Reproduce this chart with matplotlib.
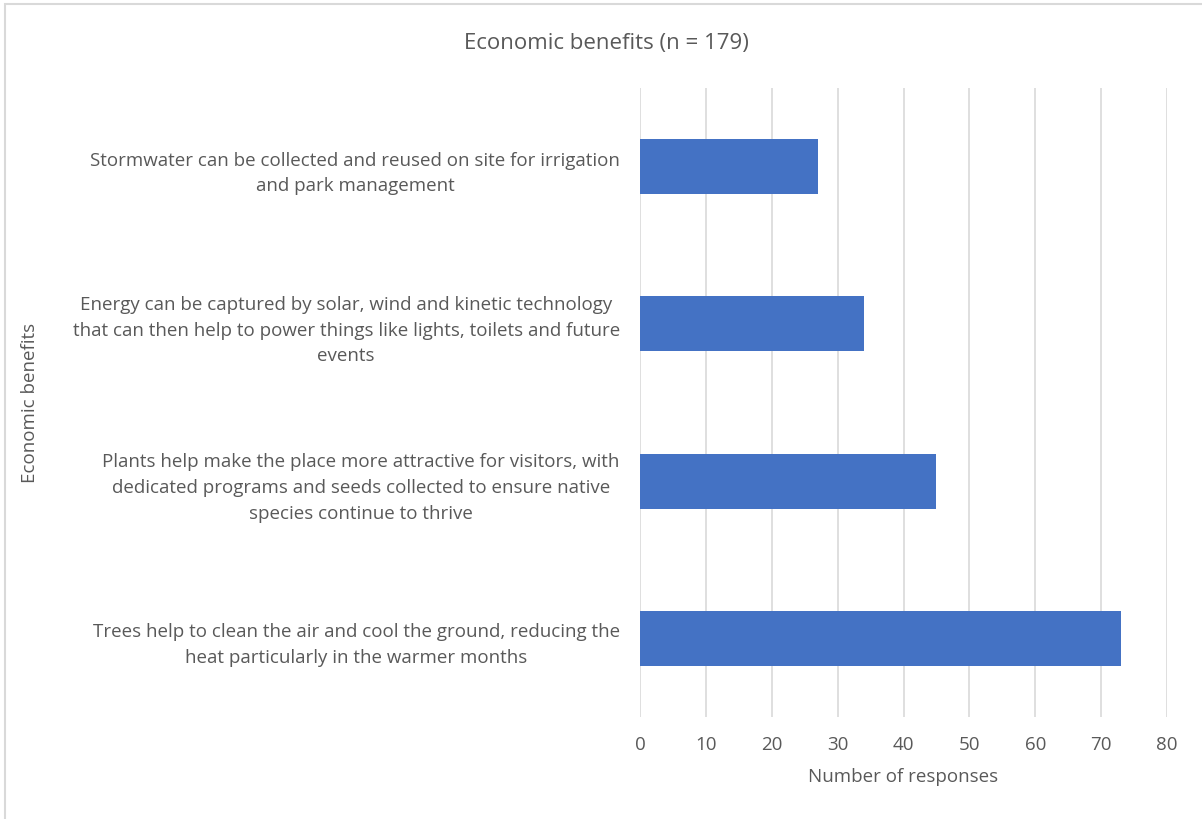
#!/usr/bin/env python3
from matplotlib import pyplot as plt
from matplotlib.patches import Rectangle

title = "Economic benefits (n = 179)"
categories = [
    "Trees help to clean the air and cool the ground, reducing the\nheat particularly in the warmer months",
    "Plants help make the place more attractive for visitors, with\ndedicated programs and seeds collected to ensure native\nspecies continue to thrive",
    "Energy can be captured by solar, wind and kinetic technology\nthat can then help to power things like lights, toilets and future\nevents",
    "Stormwater can be collected and reused on site for irrigation\nand park management",
]
responses = [73, 45, 34, 27]
x_ticks = [0, 10, 20, 30, 40, 50, 60, 70, 80]

text_grey = '#595959'
plt.rcParams['font.family'] = ['Open Sans', 'DejaVu Sans']

fig = plt.figure(figsize=(12.02, 8.2), dpi=100)
ax = fig.add_axes([640 / 1202, 1 - 718 / 820, 527 / 1202, 629 / 820])

# chart border (only top and left edges visible)
fig.patches.append(Rectangle((5 / 1202, -0.1), 1.2, 1 - 5 / 820 + 0.1,
                             transform=fig.transFigure, fill=False,
                             edgecolor='#d9d9d9', linewidth=1.5))

ypos = list(range(len(categories)))
ax.barh(ypos, responses, height=0.35, color='#4472C4', zorder=3)

ax.set_xlim(0, 80)
ax.set_ylim(-0.5, len(categories) - 0.5)
ax.set_xticks(x_ticks)
ax.set_yticks(ypos)
ax.set_yticklabels(categories, ha='right', multialignment='center',
                   linespacing=1.55)
ax.tick_params(axis='y', length=0, pad=14.5, labelsize=13.5, labelcolor=text_grey)
ax.tick_params(axis='x', length=0, pad=13, labelsize=13.5, labelcolor=text_grey)
ax.xaxis.grid(True, color='#d9d9d9', linewidth=1.2, zorder=0)
ax.set_axisbelow(True)
for s in ax.spines.values():
    s.set_visible(False)

ax.set_xlabel('Number of responses', fontsize=13.5, color=text_grey, labelpad=10)
fig.text(30 / 1202, 1 - 403 / 820, 'Economic benefits', rotation=90,
         ha='center', va='center', fontsize=13.5, color=text_grey)
fig.text(606 / 1202, 1 - 43 / 820, title, ha='center', va='center',
         fontsize=16, color=text_grey)

fig.savefig('out.png', dpi=100)
plt.close()
